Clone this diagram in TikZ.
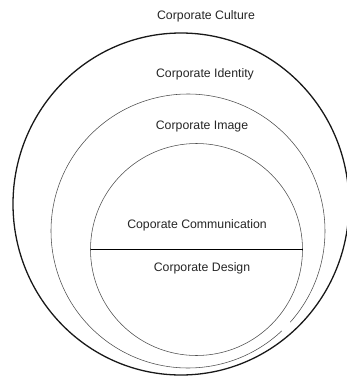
\documentclass[tikz,border=0pt]{standalone}
\usepackage{fontspec}
\setmainfont{Liberation Sans}
\begin{document}
\begin{tikzpicture}[x=1pt,y=-1pt,
  labeltext/.style={font=\fontsize{12.3}{14}\selectfont, text=black!85, inner sep=0pt, anchor=base},
  outerring/.style={line width=1.3pt, draw=black!90},
  innerring/.style={line width=0.55pt, draw=black!70},
  divider/.style={line width=0.9pt, draw=black}]
\useasboundingbox (0,0) rectangle (347,376);

% centres of the three nested rings
\coordinate (cCulture) at (181,204);
\coordinate (cIdentity) at (188,231);
\coordinate (cImage) at (196.5,249.5);

% outer ring: corporate culture
\draw[outerring] (cCulture) ellipse [x radius=168pt, y radius=171pt];

% middle ring: corporate identity, with its small break at lower right
\draw[innerring] (cIdentity) ++(-41.7:137pt) arc [start angle=-41.7, end angle=313.2, radius=137pt];

% inner ring: corporate communication / design, split by its diameter
\node[circle, innerring, minimum size=212pt, inner sep=0pt, outer sep=0pt] (imagering) at (cImage) {};
\draw[divider] (imagering.west) -- (imagering.east);

% labels
\node[labeltext] (culture) at (206,19) {Corporate Culture};
\node[labeltext] (identity) at (205,77) {Corporate Identity};
\node[labeltext] (image) at (202,129) {Corporate Image};
\node[labeltext] (communication) at (197,228) {Coporate Communication};
\node[labeltext] (design) at (202,271) {Corporate Design};
\end{tikzpicture}
\end{document}
